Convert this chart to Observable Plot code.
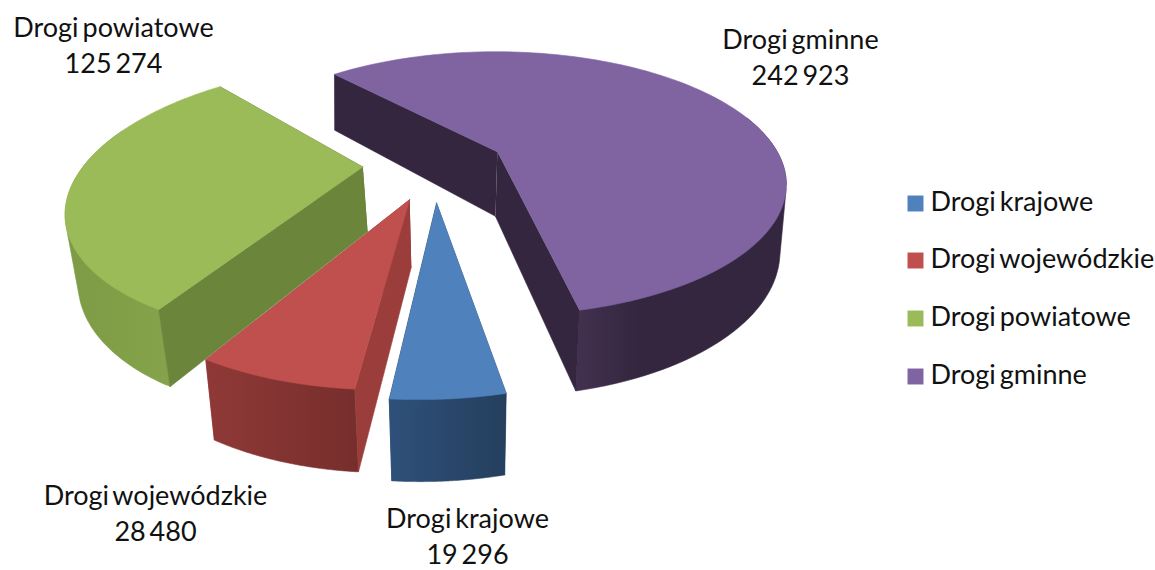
<!DOCTYPE html>
<html><head><meta charset="utf-8">
<script src="https://cdn.jsdelivr.net/npm/d3@7"></script>
<script src="https://cdn.jsdelivr.net/npm/@observablehq/plot@0.6"></script>
<style>html,body{margin:0;padding:0;background:#fff}svg{display:block}</style>
</head><body>
<div id="chart"></div>
<script>
const categories = ["Drogi krajowe", "Drogi wojewódzkie", "Drogi powiatowe", "Drogi gminne"];
const values = [19296, 28480, 125274, 242923];
const topColors = ["#4f81bd", "#c0504d", "#9bbb59", "#8064a2"];
const faceColors = ["#2b4a6f", "#9a3d3b", "#6b853b", "#35263f"];
const rimStart = ["#2e5079", "#8f3937", "#84a34a", "#423150"];
const rimEnd = ["#253f5d", "#762e2c", "#7c9b44", "#34263f"];

const W = 1155, H = 570;
// layout of the tilted pie (perspective camera)
const cam = {gx: 434, gy: 166, rx: 285, ry: 130, p: 0.2444, shear: -13, explode: 0.25, first: 167.5};
const radius = [0.99, 0.97, 0.975, 1.01];
const depth = [65, 66, 66, 67];
const recede = [0.025, 0.025, 0.025, 0.015];
const nudgeX = [1, 1, 3, -1];   // foot of each slice
const nudgeY = [2, 0, -3.5, 0]; // whole slice
const rad = Math.PI / 180;

function project(U, V, down, i) {
  const w = 1 - cam.p * V + (down ? recede[i] : 0);
  return {
    x: cam.gx + (cam.rx * U + cam.shear * V) / w + (down ? nudgeX[i] : 0),
    y: cam.gy + nudgeY[i] + (cam.ry * V + (down ? depth[i] : 0)) / w
  };
}

const pie = d3.pie().sort(null).startAngle(cam.first * rad).endAngle((cam.first + 360) * rad)(values);

const marks = [];
marks.push(() => {
  const defs = d3.create("svg:defs");
  categories.forEach((c, i) => {
    const g = defs.append("linearGradient").attr("id", "rim" + i).attr("x1", 0).attr("x2", 1).attr("y1", 0).attr("y2", 0);
    g.append("stop").attr("offset", "0%").attr("stop-color", i === 2 ? rimEnd[i] : rimStart[i]);
    g.append("stop").attr("offset", i === 3 ? "30%" : "100%").attr("stop-color", i === 2 ? rimStart[i] : rimEnd[i]);
  });
  return defs.node();
});

function poly(points, fill) {
  return Plot.line(points, {x: "x", y: "y", fill, stroke: fill, strokeWidth: 0.6, curve: "linear"});
}

// draw order: back slice first, then left to front
const order = [3, 2, 1, 0];
for (const i of order) {
  const a0 = pie[i].startAngle, a1 = pie[i].endAngle, mid = (a0 + a1) / 2, r = radius[i];
  const ox = cam.explode * Math.sin(mid), oy = -cam.explode * Math.cos(mid);
  const pt = (a, down) => project(ox + r * Math.sin(a), oy - r * Math.cos(a), down, i);
  const apex = down => project(ox, oy, down, i);
  const steps = d3.range(0, 121).map(k => a0 + (a1 - a0) * k / 120);
  const face = a => [apex(false), pt(a, false), pt(a, true), apex(true)];
  const startShows = -Math.sin(a0) > 0, endShows = Math.sin(a1) > 0;
  // cut faces turned away from the viewer go under everything
  if (!startShows) marks.push(poly(face(a0), faceColors[i]));
  if (!endShows) marks.push(poly(face(a1), faceColors[i]));
  // outer wall: silhouette of the rim's top and foot on the viewer's side
  const front = steps.filter(a => -Math.cos(a) > -0.3);
  const rimPoints = front.flatMap(a => [pt(a, false), pt(a, true)]);
  const wall = d3.polygonHull(rimPoints.map(p => [p.x, p.y])).map(([x, y]) => ({x, y}));
  marks.push(poly(wall, `url(#rim${i})`));
  if (startShows) marks.push(poly(face(a0), faceColors[i]));
  if (endShows) marks.push(poly(face(a1), faceColors[i]));
  // top
  const top = [apex(false), ...steps.map(a => pt(a, false))];
  marks.push(poly(top, topColors[i]));
}

// value labels
const fmt = d3.formatLocale({decimal: ",", thousands: " ", grouping: [3], currency: ["", ""]}).format(",d");
const labelAnchors = [[467, 534], [155, 511], [113, 43], [800, 55]];
const font = {fontFamily: "Lato", fontSize: 27, fill: "#111"};
marks.push(Plot.text(categories.map((c, i) => `${c}\n${fmt(values[i])}`), {
  x: (d, i) => labelAnchors[i][0], y: (d, i) => labelAnchors[i][1],
  text: d => d, lineHeight: 1.35, textAnchor: "middle", ...font
}));

// legend inside the picture, to the right
const legendY = [203, 260, 318, 376];
marks.push(Plot.dot(categories, {x: () => 915, y: (d, i) => legendY[i], symbol: "square", r: 9, fill: (d, i) => topColors[i], stroke: "none"}));
marks.push(Plot.text(categories, {x: () => 930, y: (d, i) => legendY[i] - 1, text: d => d, textAnchor: "start", ...font}));

const chart = Plot.plot({
  width: W, height: H, margin: 0,
  style: {wordSpacing: "-3px"},
  x: {domain: [0, W], range: [0, W], axis: null},
  y: {domain: [0, H], range: [0, H], axis: null},
  color: {type: "identity"},
  marks
});
document.getElementById("chart").append(chart);
</script>
</body></html>
